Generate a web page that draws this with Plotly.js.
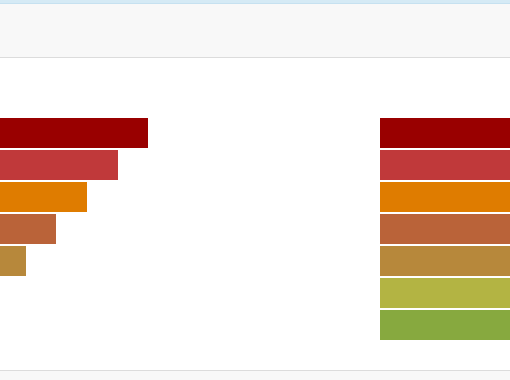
<!DOCTYPE html>
<html>
<head>
<meta charset="utf-8">
<script src="https://cdn.plot.ly/plotly-3.0.1.min.js"></script>
<style>html,body{margin:0;padding:0;background:#fff;}#chart{width:510px;height:380px;}</style>
</head>
<body>
<div id="chart"></div>
<script>
// Data
var leftCategories = [0, 1, 2, 3, 4];
var leftValues = [74, 59, 43.5, 28, 13];
var leftColors = ['#990000', '#c0393a', '#df7c00', '#ba6339', '#b7883b'];

var rightCategories = [0, 1, 2, 3, 4, 5, 6];
var rightValues = [1, 1, 1, 1, 1, 1, 1];
var rightColors = ['#990000', '#c0393a', '#df7c00', '#ba6339', '#b7883b', '#b3b443', '#87a93f'];

var W = 510, H = 380;
function py(px) { return 1 - px / H; }

var traces = [
  {
    type: 'bar', orientation: 'h',
    x: leftValues, y: leftCategories,
    marker: {color: leftColors, line: {width: 0}},
    xaxis: 'x', yaxis: 'y', hoverinfo: 'none', showlegend: false
  },
  {
    type: 'bar', orientation: 'h',
    x: rightValues, y: rightCategories,
    marker: {color: rightColors, line: {width: 0}},
    xaxis: 'x2', yaxis: 'y', hoverinfo: 'none', showlegend: false
  }
];

var layout = {
  width: W, height: H,
  margin: {l: 0, r: 0, t: 0, b: 0, pad: 0},
  paper_bgcolor: '#ffffff', plot_bgcolor: 'rgba(0,0,0,0)',
  bargap: 2 / 32,
  xaxis: {domain: [0, 1], range: [0, 255], visible: false, fixedrange: true},
  xaxis2: {domain: [380 / W, 1], range: [0, 1], visible: false, fixedrange: true, anchor: 'y'},
  yaxis: {range: [(H - 133) / 32, -133 / 32], visible: false, fixedrange: true},
  shapes: [
    {type: 'rect', xref: 'paper', yref: 'paper', x0: 0, x1: 1, y0: py(57), y1: 1, fillcolor: '#f8f8f8', line: {width: 0}, layer: 'below'},
    {type: 'rect', xref: 'paper', yref: 'paper', x0: 0, x1: 1, y0: py(3), y1: 1, fillcolor: '#d5eaf5', line: {width: 0}, layer: 'below'},
    {type: 'rect', xref: 'paper', yref: 'paper', x0: 0, x1: 1, y0: py(4), y1: py(3), fillcolor: '#c6e1f0', line: {width: 0}, layer: 'below'},
    {type: 'rect', xref: 'paper', yref: 'paper', x0: 0, x1: 1, y0: py(58), y1: py(57), fillcolor: '#dcdcdc', line: {width: 0}, layer: 'below'},
    {type: 'rect', xref: 'paper', yref: 'paper', x0: 0, x1: 1, y0: 0, y1: py(370), fillcolor: '#f8f8f8', line: {width: 0}, layer: 'below'},
    {type: 'rect', xref: 'paper', yref: 'paper', x0: 0, x1: 1, y0: py(371), y1: py(370), fillcolor: '#dcdcdc', line: {width: 0}, layer: 'below'}
  ]
};

Plotly.newPlot('chart', traces, layout, {displayModeBar: false, staticPlot: true});
</script>
</body>
</html>
